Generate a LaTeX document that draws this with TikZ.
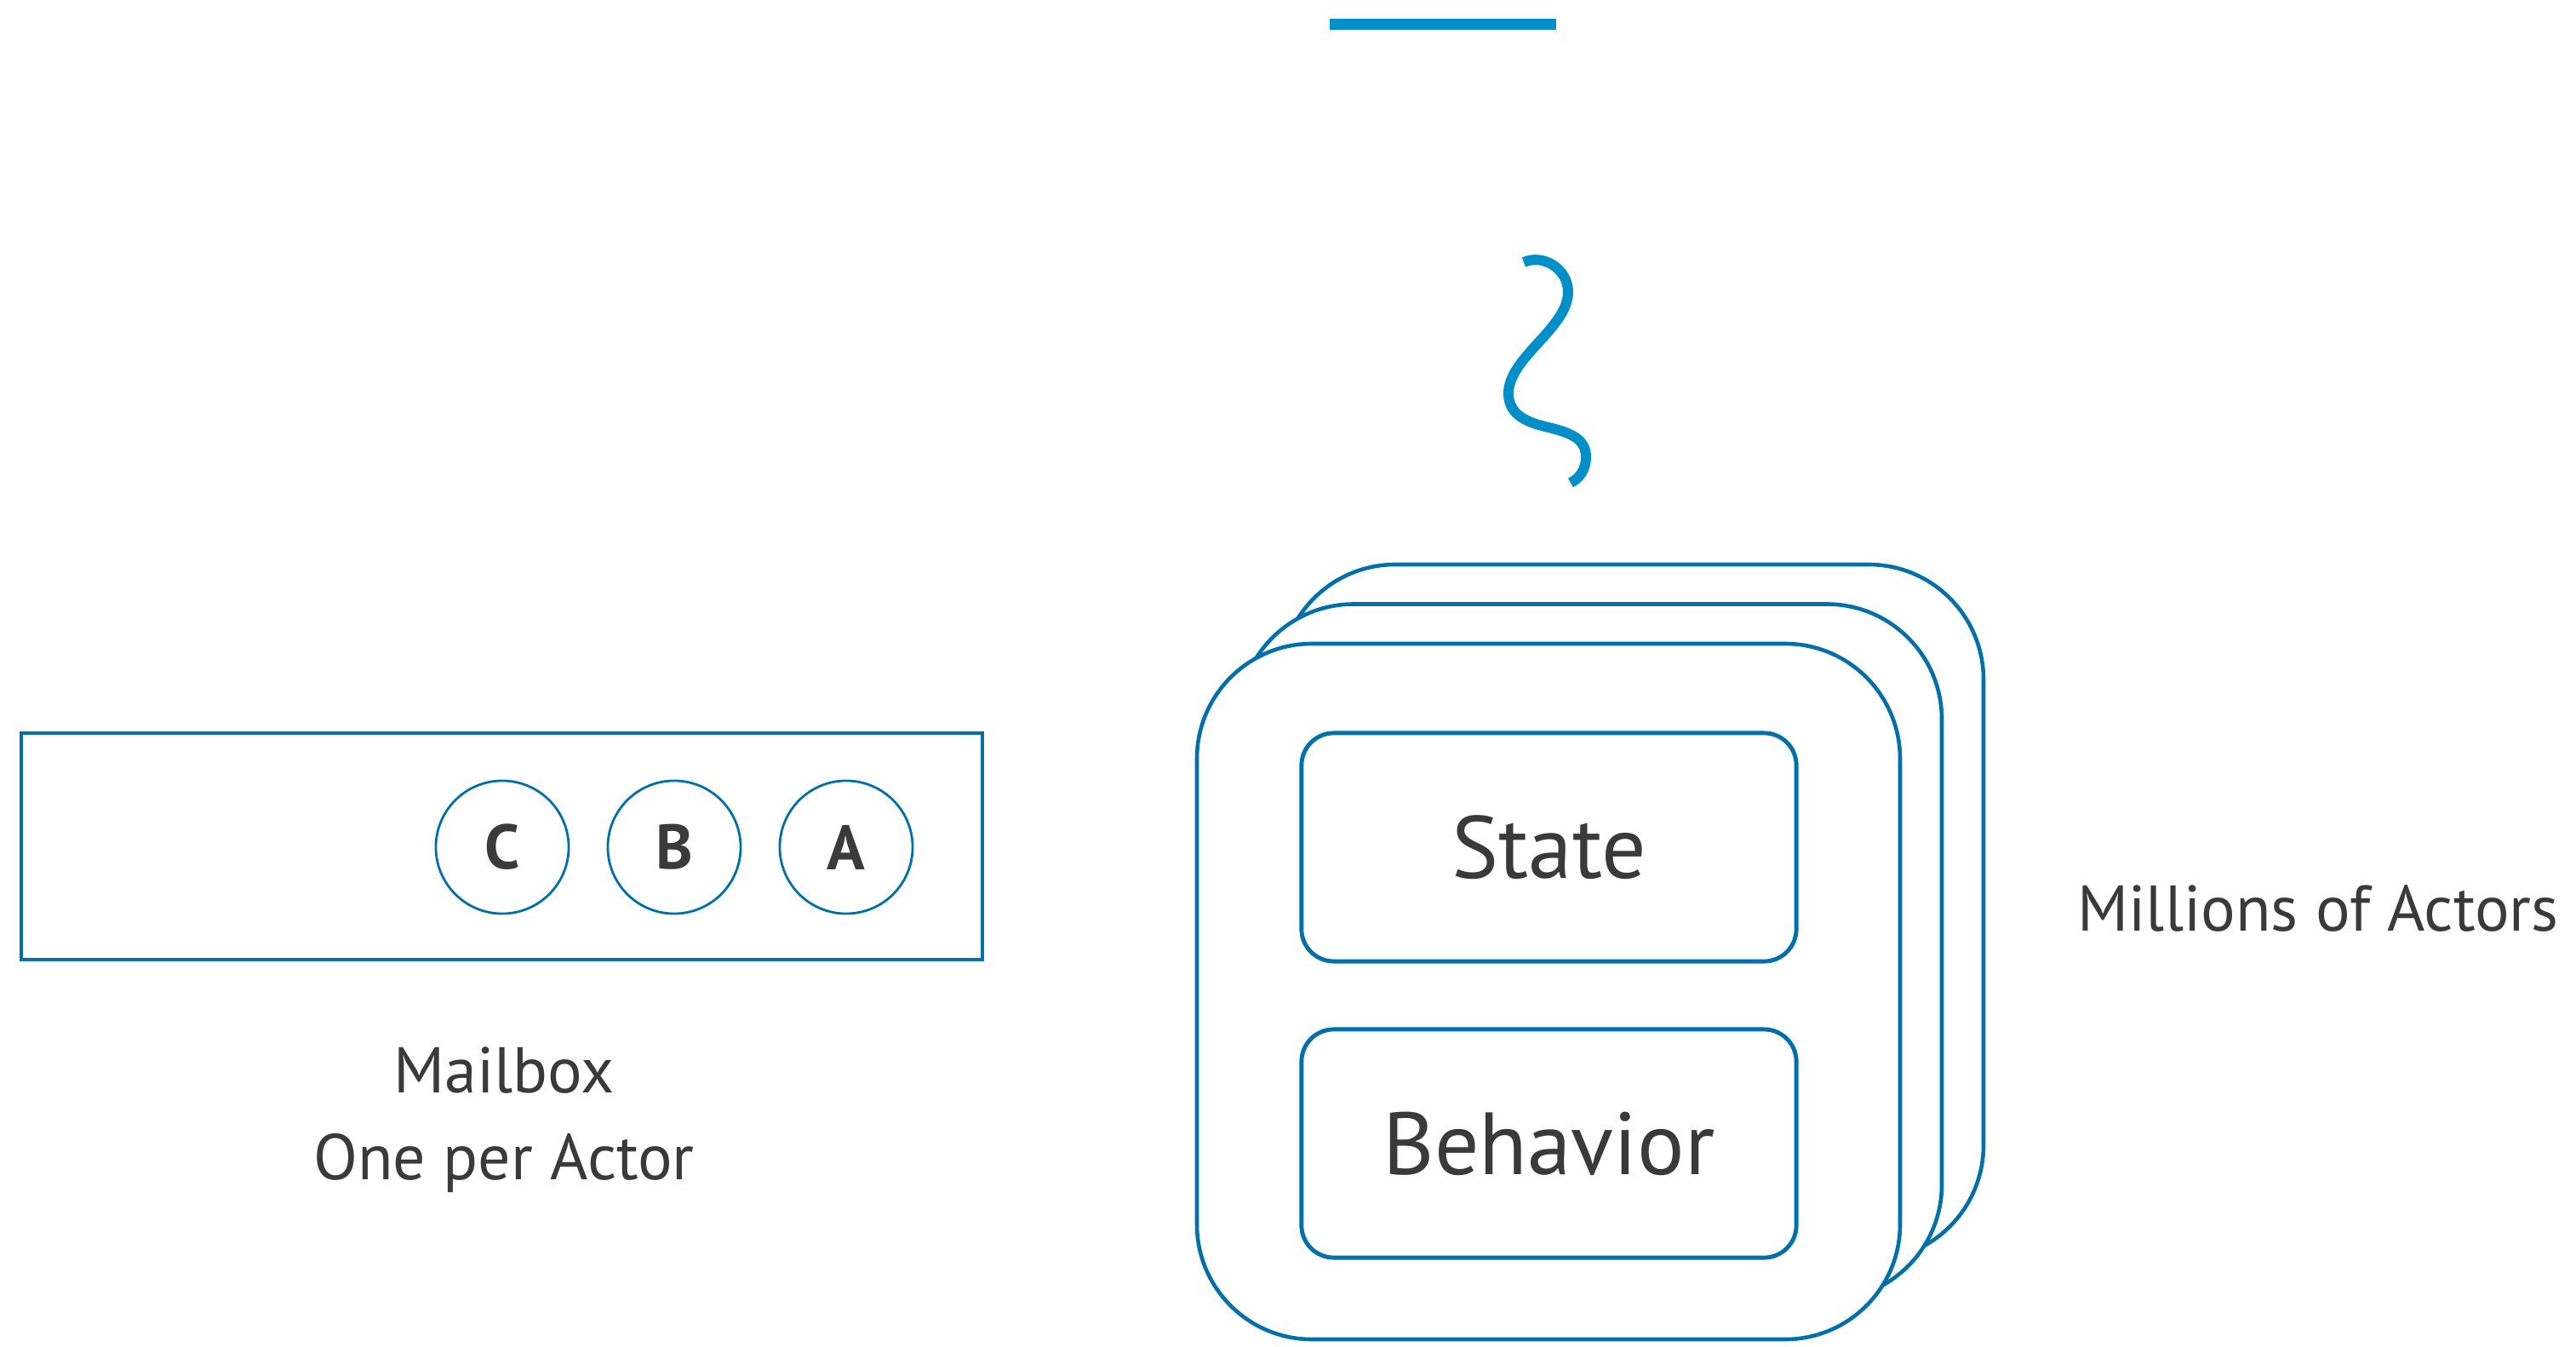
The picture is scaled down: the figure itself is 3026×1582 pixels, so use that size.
\documentclass[tikz,border=0pt]{standalone}
\usepackage{fontspec}
\setmainfont{PT Sans}
\usepackage{tikz}
\definecolor{ActorBlue}{HTML}{0070AD}
\definecolor{SkyBlue}{HTML}{008FC8}
\definecolor{InkGray}{HTML}{3A3A3A}
\tikzset{
  actorbox/.style = {draw = ActorBlue, line width = 1.3pt, fill = white, rounded corners = 1.35cm},
  partbox/.style = {draw = ActorBlue, line width = 1.4pt, rounded corners = 0.38cm, minimum width = 5.81cm, minimum height = 2.68cm, text = InkGray, font = \fontsize{29.5}{34}\selectfont},
  msg/.style = {circle, draw = ActorBlue, line width = 0.8pt, minimum size = 1.56cm, inner sep = 0pt, text = InkGray, font = \fontsize{21}{25}\selectfont\bfseries},
  caption/.style = {text = InkGray, inner sep = 0pt, anchor = base, font = \fontsize{21.6}{25}\selectfont}
}

\begin{document}
\begin{tikzpicture}[x = 0.01cm, y = -0.01cm]
              \useasboundingbox (0,0) rectangle (3026,1582);
              \draw [draw = SkyBlue, line width = 3.7pt] (1562,28.5) -- (1828,28.5);
              \draw [draw = SkyBlue, line width = 3.4pt] (1790,308) .. controls (1812,298) and (1842,315) .. (1842,343)
                .. controls (1842,385) and (1772,420) .. (1772,462)
                .. controls (1772,485) and (1790,495) .. (1815,501)
                .. controls (1845,508) and (1863,515) .. (1863,537)
                .. controls (1863,552) and (1855,562) .. (1845,567);
              \foreach \d in {2, 1, 0}
              \draw [actorbox] (1406+49*\d, 756-46.5*\d) rectangle (2232+49*\d, 1573-46.5*\d);
              \node [partbox] (state) at (1819.5,995) {State};
              \node [partbox] (behavior) at (1819.5,1343) {Behavior};
              \draw [draw = ActorBlue, line width = 1.4pt] (25,861) rectangle (1154,1127);
              \node [msg] (msgC) at (590,995) {C};
              \node [msg] (msgB) at (792,995) {B};
              \node [msg] (msgA) at (994,995) {A};
              \node [caption] (mailbox) at (592,1283) {Mailbox};
              \node [caption] (perActor) at (592,1385) {One per Actor};
              \node [caption] (millions) at (2723,1093) {Millions of Actors};
            \end{tikzpicture}
\end{document}
